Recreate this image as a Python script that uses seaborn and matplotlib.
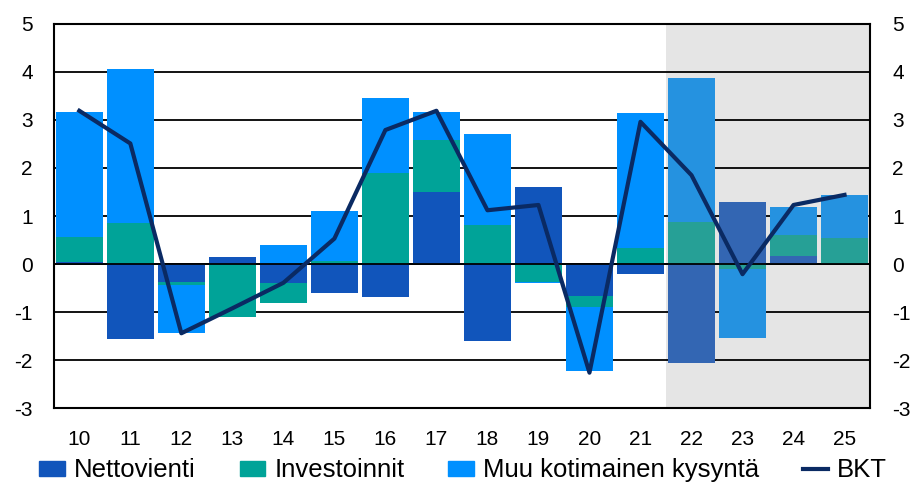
import numpy as np
import pandas as pd
from matplotlib import pyplot as plt
from matplotlib.lines import Line2D
from matplotlib.patches import Patch
import seaborn as sn

years = ['10', '11', '12', '13', '14', '15', '16', '17',
         '18', '19', '20', '21', '22', '23', '24', '25']
forecast_start = '22'

nettovienti = [0.05, -1.55, -0.37, 0.15, -0.40, -0.61, -0.69, 1.49,
               -1.60, 1.60, -0.67, -0.21, -2.06, 1.29, 0.17, 0.00]
investoinnit = [0.52, 0.85, -0.07, -1.10, -0.42, 0.07, 1.89, 1.09,
                0.81, -0.37, -0.22, 0.33, 0.88, -0.11, 0.43, 0.54]
muu_kotimainen = [2.60, 3.20, -0.99, 0.00, 0.40, 1.04, 1.57, 0.59,
                  1.89, -0.03, -1.34, 2.81, 2.99, -1.42, 0.59, 0.90]
bkt = [3.19, 2.51, -1.44, -0.92, -0.39, 0.53, 2.79, 3.19,
       1.12, 1.23, -2.26, 2.96, 1.85, -0.21, 1.23, 1.44]

series = [
    ('Nettovienti', nettovienti, '#1155bb', '#3366b3'),
    ('Investoinnit', investoinnit, '#00a398', '#26a096'),
    ('Muu kotimainen kysyntä', muu_kotimainen, '#0090ff', '#2592e0'),
]


def stacked_parts(all_series):
    # positives stack upward, negatives downward, in series order
    pos_base = np.zeros(len(years))
    neg_base = np.zeros(len(years))
    parts = []
    for name, vals, c_hist, c_fc in all_series:
        v = np.array(vals)
        pos = np.where(v > 0, v, 0.0)
        neg = np.where(v < 0, v, 0.0)
        parts.append((pos, pos_base.copy(), c_hist, c_fc))
        parts.append((neg, neg_base.copy(), c_hist, c_fc))
        pos_base += pos
        neg_base += neg
    return parts


plt.rcParams['font.family'] = ['Liberation Sans', 'DejaVu Sans']
plt.rcParams['axes.unicode_minus'] = False
fig = plt.figure(figsize=(9.12, 4.86), dpi=100)
ax = fig.add_axes([0.059, 0.16, 0.895, 0.791])

df = pd.DataFrame({'year': years})
df['forecast'] = df['year'].astype(int) >= int(forecast_start)

for heights, bottoms, c_hist, c_fc in stacked_parts(series):
    for is_fc, color in [(False, c_hist), (True, c_fc)]:
        mask = (df['forecast'] == is_fc).values
        sn.barplot(x=df['year'][mask], y=heights[mask], bottom=bottoms[mask],
                   order=years, color=color, width=0.93, linewidth=0,
                   errorbar=None, saturation=1, ax=ax, zorder=2)

sn.lineplot(x=years, y=bkt, color='#0a2a63', linewidth=3, sort=False,
            ax=ax, zorder=5)

fc_idx = years.index(forecast_start)
ax.axvspan(fc_idx - 0.5, len(years) - 0.5, color='#e5e5e5', zorder=0, lw=0)
ax.axhline(0, color='black', lw=1.3, zorder=4)

ax.set_xlim(-0.5, len(years) - 0.5)
ax.set_ylim(-3, 5)
ax.set_yticks(range(-3, 6))
ax.yaxis.grid(True, color='black', lw=1.3)
ax.set_axisbelow(True)
ax.set_xlabel('')
ax.set_ylabel('')
ax.tick_params(axis='both', length=0, labelsize=15)
ax.tick_params(axis='x', pad=16)
ax.tick_params(axis='y', pad=15)
for s in ax.spines.values():
    s.set_color('black')
    s.set_linewidth(1.5)

ax2 = ax.twinx()
ax2.set_ylim(-3, 5)
ax2.set_yticks(range(-3, 6))
ax2.tick_params(axis='y', length=0, labelsize=15, pad=16)
for s in ax2.spines.values():
    s.set_visible(False)

handles = [Patch(color=c_hist) for _, _, c_hist, _ in series]
handles.append(Line2D([0], [0], color='#0a2a63', lw=3))
labels = [name for name, _, _, _ in series] + ['BKT']
fig.legend(handles, labels, loc='lower center', ncol=4, frameon=False,
           fontsize=18.5, bbox_to_anchor=(0.508, -0.04), handlelength=1.0,
           handleheight=0.5, handletextpad=0.35, columnspacing=1.7)

plt.savefig('out.png', dpi=100)
